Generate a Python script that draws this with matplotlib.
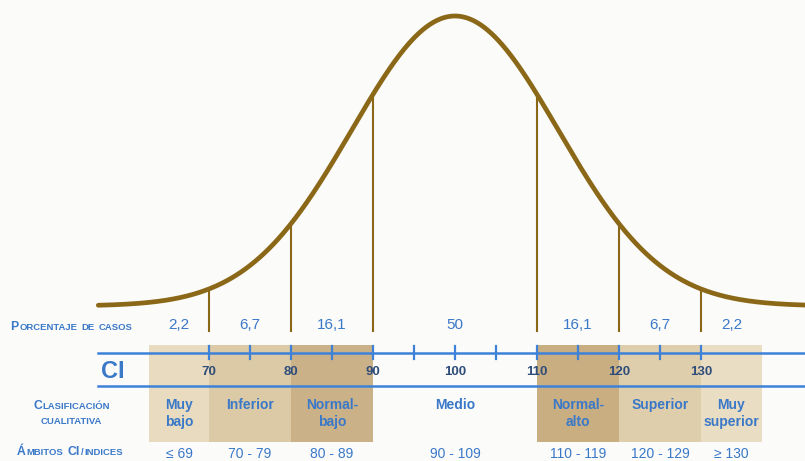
import numpy as np
import matplotlib
matplotlib.use("Agg")
import matplotlib.pyplot as plt
from matplotlib.patches import Rectangle

# ---------------- data ----------------
categories = ["Muy\nbajo", "Inferior", "Normal-\nbajo", "Medio", "Normal-\nalto", "Superior", "Muy\nsuperior"]
band_edges = [62.7, 70, 80, 90, 110, 120, 130, 137.4]
percentages = ["2,2", "6,7", "16,1", "50", "16,1", "6,7", "2,2"]
ranges = ["\u2264 69", "70 - 79", "80 - 89", "90 - 109", "110 - 119", "120 - 129", "\u2265 130"]
band_colors = ["#e8dbbf", "#dccaa6", "#cbb188", None, "#c9ae82", "#dfceac", "#e9ddc3"]
cut_points = [70, 80, 90, 110, 120, 130]
minor_ticks = list(range(70, 131, 5))
major_ticks = list(range(70, 131, 10))
curve_mean = 100
curve_sd = 12.6

# ---------------- style ----------------
W, H = 805, 461
FONT = ["Liberation Sans", "DejaVu Sans"]
BROWN = "#8a6817"
BLUE_LINE = "#3d82d8"
BLUE_TXT = "#3a78c8"
TICK_TXT = "#2f4d7a"
BG = "#fbfbfa"

fig = plt.figure(figsize=(W / 100, H / 100), dpi=100, facecolor=BG)
ax = fig.add_axes([0, 0, 1, 1])
ax.set_facecolor(BG)
x_left = 70 - 209 / 8.2
x_right = 70 + (W - 209) / 8.2
ax.set_xlim(x_left, x_right)
ax.set_ylim(H, 0)
ax.axis("off")

# curve (pixel-row y coordinates)
BASE, PEAK = 306, 290
xs = np.linspace(56.5, x_right, 600)
def curve_y(x):
    return BASE - PEAK * np.exp(-(np.asarray(x) - curve_mean) ** 2 / (2 * curve_sd ** 2))
ax.plot(xs, curve_y(xs), color=BROWN, lw=3.4, solid_capstyle="round", zorder=5)

# bands
for i, c in enumerate(band_colors):
    if c is None:
        continue
    ax.add_patch(Rectangle((band_edges[i], 345), band_edges[i + 1] - band_edges[i], 97,
                           facecolor=c, edgecolor="none", zorder=1))

# vertical cut lines
for cp in cut_points:
    ax.plot([cp, cp], [curve_y(cp), 331], color=BROWN, lw=1.5, zorder=4)

# blue lines
line_x0 = 70 - (209 - 98) / 8.2
ax.plot([line_x0, x_right], [352.5, 352.5], color=BLUE_LINE, lw=1.8, zorder=3)
ax.plot([line_x0, x_right], [385.5, 385.5], color=BLUE_LINE, lw=1.8, zorder=3)
for t in minor_ticks:
    ax.plot([t, t], [346, 358.5], color=BLUE_LINE, lw=1.6, zorder=3)
for t in major_ticks:
    ax.text(t, 372, str(t), ha="center", va="center", fontsize=9.5, fontweight="bold",
            color=TICK_TXT, family=FONT, zorder=6)

ax.text(x_left + 113 / 8.2, 371, "CI", ha="center", va="center", fontsize=17, fontweight="bold",
        color=BLUE_TXT, family=FONT, zorder=6)

# row texts
mids = [(band_edges[i] + band_edges[i + 1]) / 2 for i in range(len(categories))]
for m, p, c, r in zip(mids, percentages, categories, ranges):
    ax.text(m, 325, p, ha="center", va="center", fontsize=11, color=BLUE_TXT, family=FONT, zorder=6)
    ax.text(m, 398, c, ha="center", va="top", fontsize=10, fontweight="bold", color=BLUE_TXT,
            family=FONT, linespacing=1.3, zorder=6)
    ax.text(m, 454, r, ha="center", va="center", fontsize=10, color=BLUE_TXT, family=FONT, zorder=6)

# small caps row headers
renderer = fig.canvas.get_renderer()
def smallcaps(parts, cx, base_y, big=8.8, small=6.8, gap=3.5):
    texts, widths = [], []
    for s, b in parts:
        if s == " ":
            texts.append(None); widths.append(gap); continue
        t = fig.text(0, 0, s, fontsize=big if b else small, fontweight="bold", color=BLUE_TXT,
                     family=FONT, ha="left", va="baseline")
        widths.append(t.get_window_extent(renderer).width + 0.8)
        texts.append(t)
    x = cx - sum(widths) / 2
    for t, w in zip(texts, widths):
        if t is not None:
            t.set_position((x / W, (H - base_y) / H))
        x += w

smallcaps([("P", True), ("ORCENTAJE", False), (" ", False), ("DE", False), (" ", False), ("CASOS", False)], 72, 330)
smallcaps([("C", True), ("LASIFICACI\u00d3N", False)], 72, 409)
smallcaps([("CUALITATIVA", False)], 72, 424)
smallcaps([("\u00c1", True), ("MBITOS", False), (" ", False), ("CI", True), ("/", False), ("INDICES", False)], 70, 455)

fig.savefig("out.png", dpi=100, facecolor=BG)
